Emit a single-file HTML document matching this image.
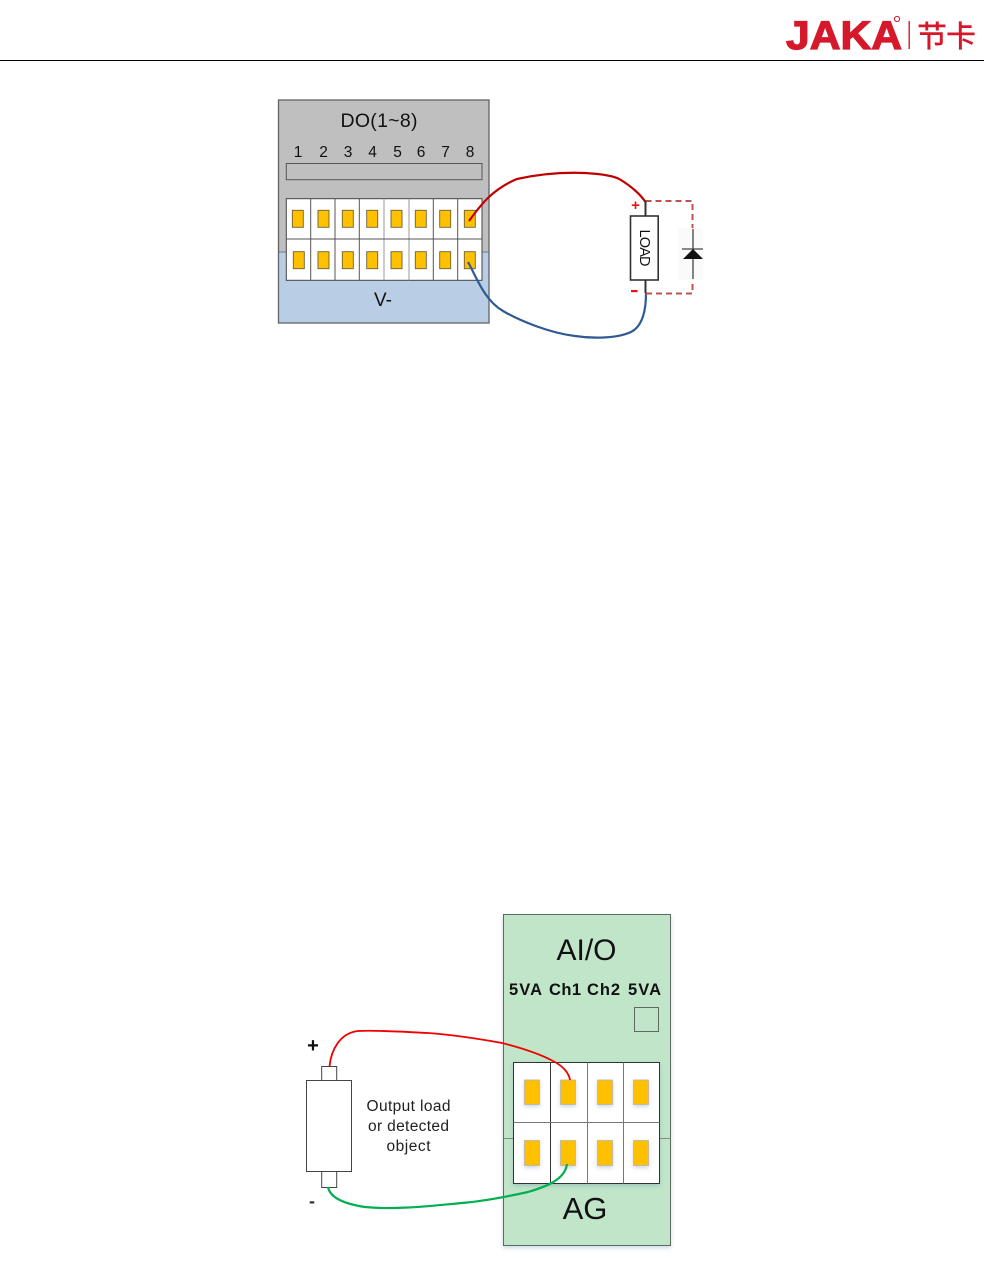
<!DOCTYPE html>
<html><head><meta charset="utf-8"><style>
html,body{margin:0;padding:0;background:#fff;width:984px;height:1266px;overflow:hidden}
svg{display:block}
text{font-family:"Liberation Sans","Noto Sans CJK SC",sans-serif}
</style></head><body>
<svg width="984" height="1266" viewBox="0 0 984 1266" xmlns="http://www.w3.org/2000/svg">
<defs>
<filter id="sh" x="-20%" y="-20%" width="140%" height="140%"><feDropShadow dx="0" dy="2" stdDeviation="2" flood-color="#5b7fa8" flood-opacity=".3"/></filter>
</defs>
<rect width="984" height="1266" fill="#fff"/>

<!-- header -->
<text x="786" y="49" font-size="39.5" font-weight="700" fill="#d5192b" stroke="#d5192b" stroke-width="1.2" textLength="116" lengthAdjust="spacingAndGlyphs">JAKA</text>
<circle cx="897" cy="19" r="2.6" fill="none" stroke="#d5192b" stroke-width="1"/>
<rect x="908.5" y="21" width="1.4" height="28" fill="#d5192b"/>
<text x="917" y="47" font-size="30" font-weight="500" fill="#d5192b" textLength="59" style="font-family:'Noto Sans CJK SC',sans-serif">节卡</text>
<line x1="0" y1="60.5" x2="984" y2="60.5" stroke="#000" stroke-width="1"/>

<!-- top diagram -->
<rect x="278.5" y="100" width="210.5" height="152" fill="#bfbfbf"/>
<rect x="278.5" y="252" width="210.5" height="71" fill="#b9cde5"/>
<line x1="278.5" y1="252" x2="489" y2="252" stroke="#6d7a88" stroke-width="1"/>
<rect x="278.5" y="100" width="210.5" height="223" fill="none" stroke="#5f6468" stroke-width="1.3"/>
<text x="379" y="127" font-size="19.5" text-anchor="middle" fill="#111" textLength="77">DO(1~8)</text>
<g font-size="15.5" text-anchor="middle" fill="#111">
<text x="298" y="157">1</text><text x="323.5" y="157">2</text><text x="348" y="157">3</text><text x="372.5" y="157">4</text><text x="397.5" y="157">5</text><text x="421" y="157">6</text><text x="445.5" y="157">7</text><text x="470" y="157">8</text>
</g>
<rect x="286.3" y="163.5" width="195.7" height="16.2" fill="#bfbfbf" stroke="#555" stroke-width="1"/>
<rect x="286.3" y="198.7" width="195.7" height="81.6" fill="#fff" stroke="#444" stroke-width="1"/>
<g stroke="#555" stroke-width="1">
<line x1="310.7" y1="198.7" x2="310.7" y2="280.3"/><line x1="335" y1="198.7" x2="335" y2="280.3"/><line x1="359.3" y1="198.7" x2="359.3" y2="280.3"/><line x1="384" y1="198.7" x2="384" y2="280.3" stroke="#999"/><line x1="409" y1="198.7" x2="409" y2="280.3" stroke="#999"/><line x1="433.3" y1="198.7" x2="433.3" y2="280.3"/><line x1="457.7" y1="198.7" x2="457.7" y2="280.3"/><line x1="286.3" y1="239" x2="482" y2="239"/>
</g>
<g fill="#ffc000" stroke="#6b6136" stroke-width=".9">
<rect x="292.3" y="210.3" width="11" height="17"/><rect x="318" y="210.3" width="11" height="17"/><rect x="342.3" y="210.3" width="11" height="17"/><rect x="366.7" y="210.3" width="11" height="17"/><rect x="391" y="210.3" width="11" height="17"/><rect x="415.3" y="210.3" width="11" height="17"/><rect x="439.7" y="210.3" width="11" height="17"/><rect x="464.3" y="210.3" width="11" height="17"/>
<rect x="293.3" y="251.7" width="11" height="17"/><rect x="318" y="251.7" width="11" height="17"/><rect x="342.3" y="251.7" width="11" height="17"/><rect x="366.7" y="251.7" width="11" height="17"/><rect x="391" y="251.7" width="11" height="17"/><rect x="415.3" y="251.7" width="11" height="17"/><rect x="439.7" y="251.7" width="11" height="17"/><rect x="464.3" y="251.7" width="11" height="17"/>
</g>
<text x="383" y="306" font-size="19" text-anchor="middle" fill="#111">V-</text>

<path d="M469 221 C478 209 490 190 517 179 C535 175 560 172 585 173 C603 174 615 176 621 180 C632 187 640 194 645.5 202" fill="none" stroke="#c00000" stroke-width="2.2"/>
<path d="M468 262 C476 276 484 300 503 311 C520 321 550 333 575 336 C595 339 618 338 631 332 C643 326 646 310 646 293" fill="none" stroke="#2f5a92" stroke-width="2.2"/>

<path d="M645.5 201 H692.5 V293.5 H645.5" fill="none" stroke="#c0504d" stroke-width="2" stroke-dasharray="6 4"/>
<rect x="678" y="228" width="25" height="52" fill="#fafafa"/>
<line x1="645.5" y1="201" x2="645.5" y2="216" stroke="#333" stroke-width="2"/>
<line x1="645.5" y1="280" x2="645.5" y2="293" stroke="#333" stroke-width="2"/>
<rect x="630.5" y="216" width="27.7" height="64" fill="#fff" stroke="#333" stroke-width="1.6"/>
<text transform="translate(640 248) rotate(90)" font-size="14.5" text-anchor="middle" fill="#111" textLength="37">LOAD</text>
<line x1="693" y1="229" x2="693" y2="279" stroke="#444" stroke-width="1.3"/>
<line x1="682" y1="249" x2="703" y2="249" stroke="#444" stroke-width="1.2"/>
<polygon points="683,259 703,259 693,249" fill="#111"/>
<text x="635.5" y="210" font-size="15" font-weight="700" text-anchor="middle" fill="#ee1111">+</text>
<rect x="631" y="290" width="6.5" height="2.2" fill="#ee1111"/>

<!-- bottom diagram -->
<g filter="url(#sh)"><rect x="503.5" y="914.5" width="167" height="331" fill="#c0e5c8" stroke="#5d6b62" stroke-width="1"/></g>
<line x1="503.5" y1="1138.5" x2="670.5" y2="1138.5" stroke="#7b8f80" stroke-width="1"/>
<text x="586.5" y="960" font-size="30" text-anchor="middle" fill="#111">AI/O</text>
<g font-size="16.5" font-weight="700" text-anchor="middle" fill="#111">
<text x="525.5" y="995" textLength="33">5VA</text><text x="565" y="995" textLength="32">Ch1</text><text x="603.5" y="995" textLength="33">Ch2</text><text x="644.5" y="995" textLength="33">5VA</text>
</g>
<rect x="634.5" y="1007.5" width="24" height="24" fill="none" stroke="#5d6b62" stroke-width="1"/>
<g filter="url(#sh)"><rect x="513.5" y="1062.5" width="146" height="121" fill="#fff" stroke="#333" stroke-width="1"/></g>
<line x1="550.5" y1="1062.5" x2="550.5" y2="1183.5" stroke="#333"/>
<line x1="587.5" y1="1062.5" x2="587.5" y2="1183.5" stroke="#777"/>
<line x1="623.5" y1="1062.5" x2="623.5" y2="1183.5" stroke="#777"/>
<line x1="513.5" y1="1122.5" x2="659.5" y2="1122.5" stroke="#777"/>
<g fill="#ffc000" stroke="#b9b5a6" stroke-width=".8" filter="url(#sh)">
<rect x="524.5" y="1080" width="15" height="24.5"/><rect x="560.5" y="1080" width="15" height="24.5"/><rect x="597.5" y="1080" width="15" height="24.5"/><rect x="633.5" y="1080" width="15" height="24.5"/>
<rect x="524.5" y="1140.5" width="15" height="25"/><rect x="560.5" y="1140.5" width="15" height="25"/><rect x="597.5" y="1140.5" width="15" height="25"/><rect x="633.5" y="1140.5" width="15" height="25"/>
</g>
<text x="585" y="1219" font-size="31" text-anchor="middle" fill="#111">AG</text>

<rect x="321.7" y="1066.5" width="15" height="14" fill="#fff" stroke="#444" stroke-width="1"/>
<rect x="321.7" y="1171.5" width="15" height="16" fill="#fff" stroke="#444" stroke-width="1"/>
<rect x="306.5" y="1080.5" width="45" height="91" fill="#fff" stroke="#444" stroke-width="1"/>
<path d="M329.5 1066.5 C331 1050 340 1033 358 1031 C380 1030 405 1032 428 1033 C455 1035 480 1039 502 1043 C522 1048 540 1054 553 1061 C563 1066 569 1073 570 1080" fill="none" stroke="#f00000" stroke-width="1.8"/>
<path d="M328 1187 C330 1198 345 1204 365 1207 C395 1210 430 1206 462 1203 C485 1201 510 1196 528 1192 C545 1187 565 1180 567 1164" fill="none" stroke="#00b050" stroke-width="2.2"/>
<text x="313" y="1052" font-size="20" font-weight="700" text-anchor="middle" fill="#111">+</text>
<text x="312" y="1207" font-size="18" font-weight="700" text-anchor="middle" fill="#333">-</text>
<g font-size="15.5" text-anchor="middle" fill="#222">
<text x="408.5" y="1111" textLength="84">Output load</text>
<text x="408.5" y="1131" textLength="81">or detected</text>
<text x="408.5" y="1151" textLength="44">object</text>
</g>
</svg>
</body></html>
